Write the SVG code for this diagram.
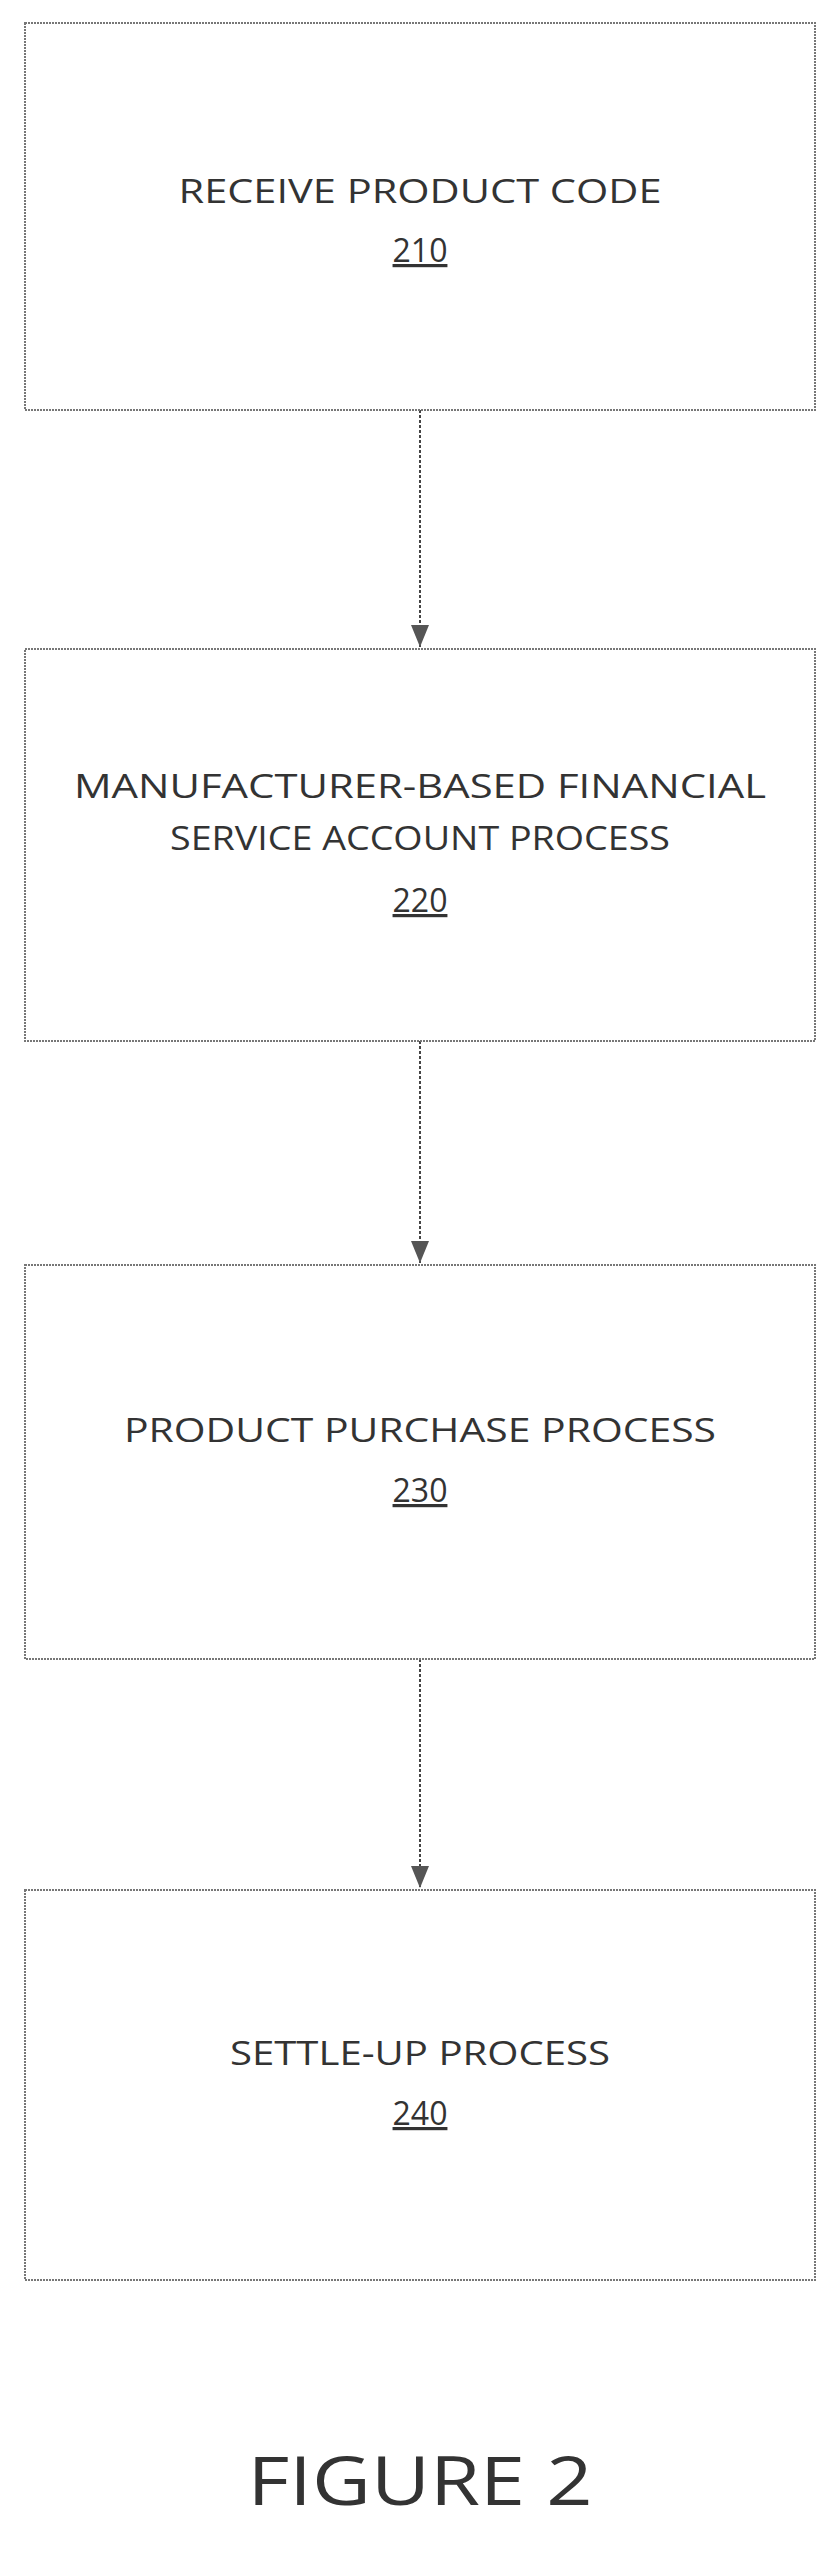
<svg xmlns="http://www.w3.org/2000/svg" width="839" height="2552" viewBox="0 0 839 2552">
<style>
.box{fill:#fff;stroke:#777;stroke-width:2;stroke-dasharray:2 1}
.t{font-family:"Open Sans","Liberation Sans",sans-serif;font-size:32px;fill:#333;text-anchor:middle}
.n{text-decoration:underline}
.c{stroke:#444;stroke-width:2;stroke-dasharray:3 2;fill:none}
</style>
<defs><marker id="a" markerWidth="22" markerHeight="18" refX="22" refY="9" orient="auto" markerUnits="userSpaceOnUse"><path d="M0,0 L22,9 L0,18 z" fill="#555"/></marker></defs>
<rect width="839" height="2552" fill="#fff"/>
<g id="connectors">
<line class="c" x1="420" y1="410" x2="420" y2="647" marker-end="url(#a)"/>
<line class="c" x1="420" y1="1041" x2="420" y2="1263" marker-end="url(#a)"/>
<line class="c" x1="420" y1="1659" x2="420" y2="1888" marker-end="url(#a)"/>
</g>
<g id="n210"><rect class="box" x="25" y="23" width="790" height="387"/>
<text class="t" x="420" y="203" textLength="483" lengthAdjust="spacingAndGlyphs">RECEIVE PRODUCT CODE</text><text class="t n" x="420" y="262">210</text></g>
<g id="n220"><rect class="box" x="25" y="649" width="790" height="392"/>
<text class="t" x="420" y="798" textLength="692" lengthAdjust="spacingAndGlyphs">MANUFACTURER-BASED FINANCIAL</text>
<text class="t" x="420" y="850" textLength="500" lengthAdjust="spacingAndGlyphs">SERVICE ACCOUNT PROCESS</text><text class="t n" x="420" y="912">220</text></g>
<g id="n230"><rect class="box" x="25" y="1265" width="790" height="394"/>
<text class="t" x="420" y="1442" textLength="592" lengthAdjust="spacingAndGlyphs">PRODUCT PURCHASE PROCESS</text><text class="t n" x="420" y="1502">230</text></g>
<g id="n240"><rect class="box" x="25" y="1890" width="790" height="390"/>
<text class="t" x="420" y="2065" textLength="380" lengthAdjust="spacingAndGlyphs">SETTLE-UP PROCESS</text><text class="t n" x="420" y="2125">240</text></g>
<text class="t" x="420" y="2505" style="font-size:68px" textLength="345" lengthAdjust="spacingAndGlyphs">FIGURE 2</text>
</svg>
